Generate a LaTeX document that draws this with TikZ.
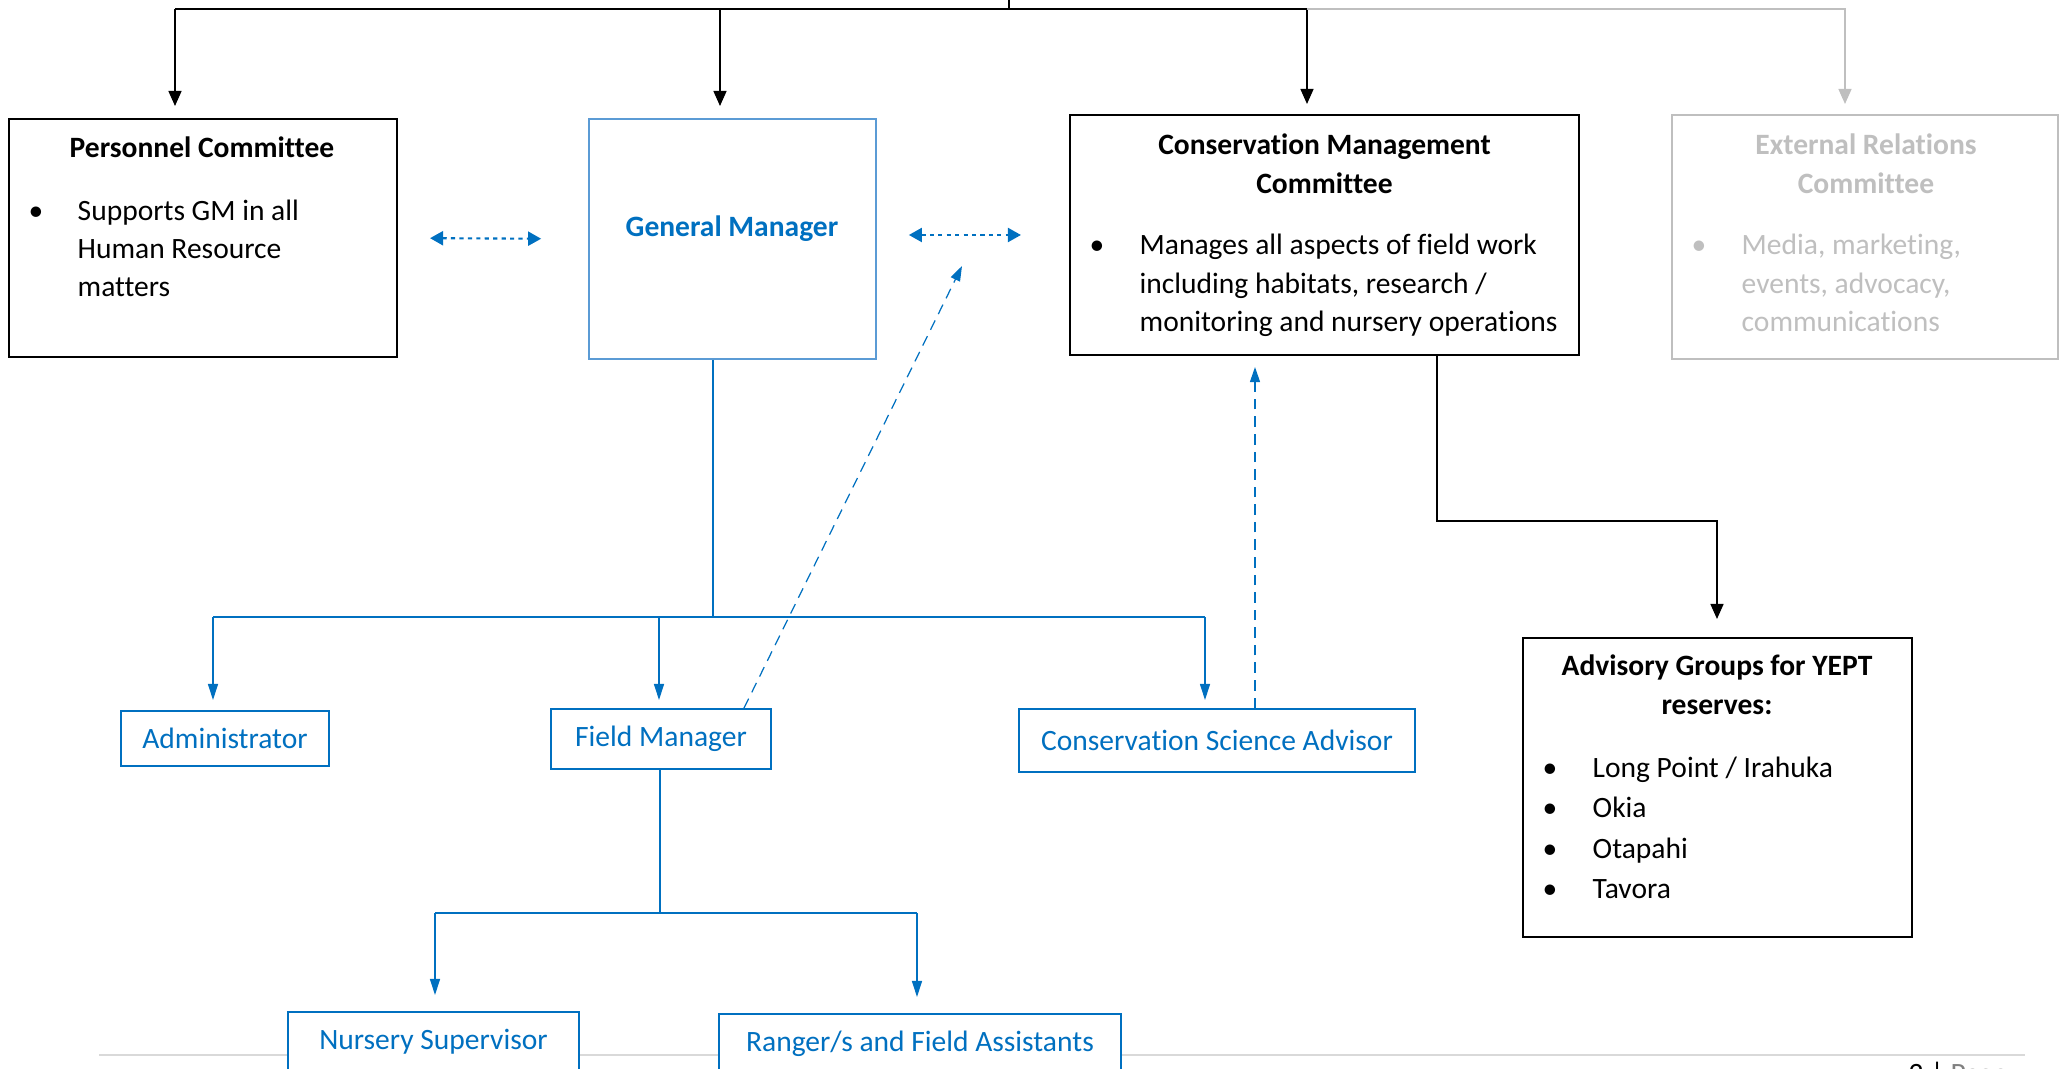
\documentclass[tikz,border=0pt]{standalone}
\usepackage{fontspec}
\setmainfont{Carlito}[Ligatures=NoCommon]
\usetikzlibrary{positioning,arrows.meta}

\definecolor{dkblue}{HTML}{0070C0}
\definecolor{ltblue}{HTML}{5B9BD5}
\definecolor{ltgray}{HTML}{BFBFBF}
\definecolor{footgray}{HTML}{D9D9D9}

\begin{document}
\begin{tikzpicture}[
	font=\fontsize{8.4}{10}\selectfont,
	box/.style={draw, fill=white, line width=0.6pt, inner sep=0pt},
	bbox/.style={draw=dkblue, fill=white, line width=0.5pt, inner sep=0pt, text=dkblue},
	txt/.style={inner sep=0pt, anchor=base west},
	ttl/.style={inner sep=0pt, anchor=base, font=\fontsize{8.4}{10}\selectfont\bfseries},
	blkarr/.style={line width=0.4pt, -{Triangle[length=0.15cm,width=0.13cm]}},
	bluarr/.style={dkblue, line width=0.35pt, -{Triangle[length=0.16cm,width=0.1cm]}},
	dotarr/.style={dkblue, line width=0.6pt, dash pattern=on 1.2pt off 1.2pt,
		{Triangle[length=0.13cm,width=0.14cm]}-{Triangle[length=0.13cm,width=0.14cm]}},
	dasharr/.style={dkblue, line width=0.35pt, dash pattern=on 3pt off 2pt,
		-{Triangle[length=0.15cm,width=0.1cm]}}
]
\useasboundingbox (0,0) rectangle (20.6,-10.69);
\def\bul{\textbullet}

% footer rule, behind the boxes
\draw[footgray, line width=0.6pt] (0.99,-10.55) -- (20.25,-10.55);
\node[txt] (foot) at (19.08,-10.84) {2 | \textcolor{gray}{Page}};

% top row
\node[box, minimum width=3.88cm, minimum height=2.38cm] (pc) at (2.03,-2.38) {};
\node[box, draw=ltblue, line width=0.5pt, minimum width=2.87cm, minimum height=2.40cm] (gm) at (7.325,-2.39) {};
\node[box, minimum width=5.09cm, minimum height=2.40cm] (cmc) at (13.245,-2.35) {};
\node[box, draw=ltgray, line width=0.6pt, minimum width=3.86cm, minimum height=2.44cm] (erc) at (18.65,-2.37) {};

% middle and bottom rows
\node[bbox, minimum width=2.08cm, minimum height=0.55cm] (adm) at (2.25,-7.385) {Administrator};
\node[bbox, minimum width=2.20cm, minimum height=0.60cm] (fm) at (6.61,-7.39) {Field Manager};
\node[bbox, minimum width=3.96cm, minimum height=0.63cm] (csa) at (12.17,-7.405) {Conservation Science Advisor};
\node[bbox, minimum width=2.91cm, minimum height=0.60cm] (ns) at (4.335,-10.42) {Nursery Supervisor};
\node[bbox, minimum width=4.02cm, minimum height=0.60cm] (rfa) at (9.20,-10.44) {Ranger/s and Field Assistants};
\node[box, minimum width=3.89cm, minimum height=2.99cm] (adv) at (17.175,-7.875) {};

% texts of the big boxes
\node[ttl] (pct) at (2.02,-1.58) {Personnel Committee};
\foreach \t [count=\i] in {Supports GM in all, Human Resource, matters}
	\node[txt] (pc\i) at (0.77,-1.83-0.38*\i) {\t};
\node[inner sep=0pt, anchor=base] (pcb) at (0.36,-2.21) {\bul};

\node[ttl, text=dkblue] (gmt) at (7.32,-2.37) {General Manager};

\node[ttl] (cmct1) at (13.245,-1.55) {Conservation Management};
\node[ttl] (cmct2) at (13.245,-1.94) {Committee};
\foreach \t [count=\i] in {Manages all aspects of field work, including habitats{,} research /, monitoring and nursery operations}
	\node[txt] (cmc\i) at (11.39,-2.165-0.385*\i) {\t};
\node[inner sep=0pt, anchor=base] (cmcb) at (10.97,-2.55) {\bul};

\begin{scope}[ltgray]
\node[ttl, text=ltgray] (erct1) at (18.66,-1.55) {External Relations};
\node[ttl, text=ltgray] (erct2) at (18.66,-1.94) {Committee};
\foreach \t [count=\i] in {Media{,} marketing{,}, events{,} advocacy{,}, communications}
	\node[txt, text=ltgray] (erc\i) at (17.41,-2.165-0.385*\i) {\t};
\node[inner sep=0pt, anchor=base, text=ltgray] (ercb) at (16.99,-2.55) {\bul};
\end{scope}

\node[ttl] (advt1) at (17.17,-6.76) {Advisory Groups for YEPT};
\node[ttl] (advt2) at (17.17,-7.15) {reserves:};
\foreach \t [count=\i] in {Long Point / Irahuka, Okia, Otapahi, Tavora}{
	\node[txt] (adv\i) at (15.92,-7.372-0.404*\i) {\t};
	\node[inner sep=0pt, anchor=base] (advb\i) at (15.50,-7.372-0.404*\i) {\bul};
}

% black bar on top
\coordinate (top) at (10.09,0);
\coordinate (bar) at (10.09,-0.09);
\coordinate (pcin) at (1.75,-1.06);
\coordinate (gmin) at (7.20,-1.06);
\coordinate (cmin) at (13.07,-1.04);
\coordinate (erin) at (18.45,-1.04);
\draw[line width=0.4pt] (top) -- (bar);
\draw[line width=0.4pt] (pcin |- bar) -- (cmin |- bar);
\foreach \c in {pcin,gmin,cmin}
	\draw[blkarr] (\c |- bar) -- (\c);
\draw[blkarr, ltgray] (cmin |- bar) -- (erin |- bar) -- (erin);

% links between the committees and the GM
\draw[dotarr, shorten <=0.32cm, shorten >=0.47cm] (pc.east) -- (gm.west);
\draw[dotarr, shorten <=0.32cm, shorten >=0.48cm] (gm.east |- cmc.west) -- (cmc.west);

% GM to staff
\coordinate (tree) at (7.13,-6.17);
\coordinate (admin) at (2.13,-7.00);
\coordinate (fmin) at (6.59,-7.00);
\coordinate (csin) at (12.05,-7.00);
\draw[dkblue, line width=0.35pt] (gm.south -| tree) -- (tree);
\draw[dkblue, line width=0.35pt] (admin |- tree) -- (csin |- tree);
\foreach \c in {admin,fmin,csin}
	\draw[bluarr] (\c |- tree) -- (\c);

% field manager to field staff
\coordinate (fmtree) at (6.60,-9.13);
\coordinate (nsin) at (4.35,-9.95);
\coordinate (rfain) at (9.17,-9.97);
\draw[dkblue, line width=0.35pt] (fm.south -| fmtree) -- (fmtree);
\draw[dkblue, line width=0.35pt] (nsin |- fmtree) -- (rfain |- fmtree);
\foreach \c in {nsin,rfain}
	\draw[bluarr] (\c |- fmtree) -- (\c);

% dashed reports
\coordinate (gmtip) at (9.62,-2.66);
\draw[dasharr] ([xshift=0.83cm]fm.north) -- (gmtip);
\draw[dasharr, shorten >=0.11cm] ([xshift=0.38cm]csa.north) -- ([xshift=0.38cm]csa.north |- cmc.south);

% CMC to advisory groups
\coordinate (advin) at (17.17,-6.19);
\draw[blkarr] ([xshift=1.125cm]cmc.south) -- ++(0,-1.65) -| (advin);

\end{tikzpicture}
\end{document}
